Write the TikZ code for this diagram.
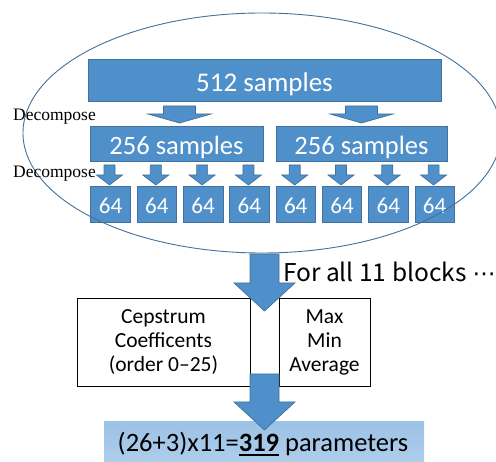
\documentclass[tikz,border=0pt]{standalone}
\usepackage{fontspec}
\setmainfont{Carlito}
\newfontfamily\serifface{Liberation Serif}
\newfontfamily\jpface{Noto Sans CJK JP}
\newfontfamily\symface{DejaVu Sans}
\usetikzlibrary{shapes.geometric}

\definecolor{boxblue}{HTML}{5090CA}
\definecolor{edgeblue}{HTML}{41719C}
\definecolor{palebluetop}{HTML}{9CC2E5}
\definecolor{palebluebot}{HTML}{B2D0EC}

% thick underline for the highlighted count
\newcommand\thickul[1]{\setbox0\hbox{#1}\rlap{\rule[-3.6pt]{\wd0}{1.6pt}}\box0\relax}

\tikzset{
  blk/.style={draw=edgeblue, fill=boxblue, line width=0.7pt, inner sep=0pt, outer sep=0pt},
  plainbox/.style={draw=black, fill=white, line width=0.9pt, inner sep=0pt, outer sep=0pt},
  wtext/.style={text=white, inner sep=0pt, anchor=base},
  declabel/.style={anchor=base west, inner sep=0pt, font=\serifface\fontsize{17.5}{20}\selectfont},
  % downward block arrow: #1 shaft half width, #2 head half width,
  % #3 shaft length, #4 head length (pic origin = top centre)
  pics/barrow/.style n args={4}{code={
    \draw[blk] (-#1,0) -- (#1,0) -- (#1,#3) -- (#2,#3) -- (0,#3+#4)
      -- (-#2,#3) -- (-#1,#3) -- cycle;
  }}
}

\begin{document}
\begin{tikzpicture}[x=1pt,y=-1pt]
\useasboundingbox (0,0) rectangle (496,462);

% top level block
\node[blk, minimum width=353pt, minimum height=42pt] (s512) at (264.5,80) {};
\node[wtext, font=\fontsize{27}{30}\selectfont] at (264.5,91.7) {512 samples};

% first split
\pic at (179.5,106) {barrow={16}{31.5}{8}{9}};
\pic at (361.5,106) {barrow={16}{31.5}{8}{9}};
\node[blk, minimum width=173pt, minimum height=35pt] (s256a) at (176.5,143.5) {};
\node[blk, minimum width=171pt, minimum height=35pt] (s256b) at (361.5,143.5) {};
\node[wtext, font=\fontsize{26.5}{30}\selectfont] at (176.5,155) {256 samples};
\node[wtext, font=\fontsize{26.5}{30}\selectfont] at (361.5,155) {256 samples};

% second split into 64-sample blocks
\foreach \i in {0,...,7} {
  \pgfmathsetmacro\cx{110.5+46.3*\i}
  \pic at (\cx-1,165) {barrow={5.5}{13}{10}{10}};
  \node[blk, minimum width=39.5pt, minimum height=36pt] (s64-\i) at (\cx,204) {};
  \node[wtext, font=\fontsize{23}{27}\selectfont] at (\cx,213.3) {64};
}

% grouping ellipse
\node[draw=edgeblue, line width=0.9pt, ellipse, inner sep=0pt,
      minimum width=478pt, minimum height=240pt] (group) at (262,133) {};

\node[declabel] (dec1) at (13,121) {Decompose};
\node[declabel] (dec2) at (13,178) {Decompose};

% feature boxes
\node[plainbox, minimum width=173pt, minimum height=88pt] (ceps) at (163.5,342) {};
\node[plainbox, minimum width=91pt, minimum height=88pt] (stats) at (324.5,342) {};
\node[align=center, inner sep=0pt, font=\fontsize{21.5}{24}\selectfont] at (ceps.center)
  {Cepstrum\\Coefficents\\(order 0--25)};
\node[align=center, inner sep=0pt, font=\fontsize{21.5}{24}\selectfont] at (stats.center)
  {Max\\Min\\Average};

% result box
\node[inner sep=0pt, outer sep=0pt, minimum width=320pt, minimum height=48pt,
      top color=palebluetop, bottom color=palebluebot] (result) at (264,446) {};
\node[anchor=base, inner sep=0pt, font=\fontsize{26.5}{30}\selectfont] at (263,452)
  {(26+3)x11=\thickul{\textbf{319}} parameters};

% main flow arrows
\pic at (264.5,254) {barrow={14.5}{30.5}{29}{28}};
\pic at (264.5,374) {barrow={14.5}{30.5}{28}{28}};

\node[anchor=base west, inner sep=0pt, font=\jpface\fontsize{24.5}{27}\selectfont] (note) at (283,282)
  {For all 11 blocks\kern6pt{\symface\fontsize{23}{26}\selectfont ⋯}};
\end{tikzpicture}
\end{document}
